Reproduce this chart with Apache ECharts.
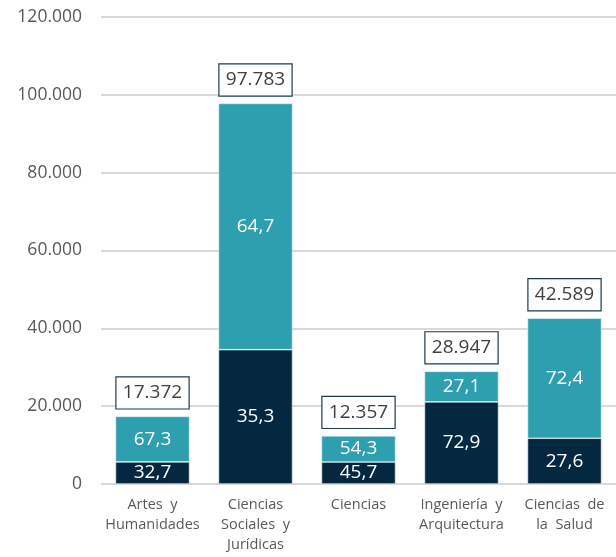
<!DOCTYPE html>
<html>
<head>
<meta charset="utf-8">
<script src="https://cdn.jsdelivr.net/npm/echarts@6/dist/echarts.min.js"></script>
<style>
  html, body { margin: 0; padding: 0; background: #fff; }
  #chart { width: 616px; height: 557px; }
</style>
</head>
<body>
<div id="chart"></div>
<script>
// Ramas de conocimiento: total de estudiantes y reparto porcentual
const categories = [
  'Artes  y\nHumanidades',
  'Ciencias\nSociales  y\nJurídicas',
  'Ciencias',
  'Ingeniería  y\nArquitectura',
  'Ciencias  de\nla  Salud'
];
const totals = [17372, 97783, 12357, 28947, 42589];
const pctDark = [32.7, 35.3, 45.7, 72.9, 27.6];
const pctTeal = [67.3, 64.7, 54.3, 27.1, 72.4];
const yTicks = { min: 0, max: 120000, interval: 20000 };

const FONT = '"Open Sans", "Noto Sans", sans-serif';
const fmtNum = v => Math.round(v).toString().replace(/\B(?=(\d{3})+(?!\d))/g, '.');
const fmtPct = v => v.toFixed(1).replace('.', ',');

const darkData = totals.map((t, i) => ({ value: t * pctDark[i] / 100, pct: pctDark[i] }));
const tealData = totals.map((t, i) => ({ value: t * pctTeal[i] / 100, pct: pctTeal[i] }));

const chart = echarts.init(document.getElementById('chart'), null, { renderer: 'canvas' });
chart.setOption({
  animation: false,
  grid: { left: 101, right: -5, top: 17, bottom: 73, containLabel: false },
  xAxis: {
    type: 'category',
    data: categories,
    axisTick: { show: false },
    axisLine: { show: false },
    axisLabel: {
      color: '#595959', fontFamily: FONT, fontSize: 14.5,
      lineHeight: 20, margin: 11, interval: 0
    }
  },
  yAxis: {
    type: 'value',
    min: yTicks.min, max: yTicks.max, interval: yTicks.interval,
    axisLine: { show: false },
    axisTick: { show: false },
    splitLine: { lineStyle: { color: '#d9d9d9', width: 2 } },
    axisLabel: {
      color: '#595959', fontFamily: FONT, fontSize: 17.5,
      margin: 19, formatter: fmtNum
    }
  },
  series: [
    {
      name: 'dark', type: 'bar', stack: 'total', barWidth: 74,
      data: darkData,
      itemStyle: { color: '#03283f', borderColor: '#e8f2f4', borderWidth: 0.6 },
      label: {
        show: true, position: 'inside', color: '#ffffff',
        fontFamily: FONT, fontSize: 19,
        formatter: p => fmtPct(p.data.pct)
      }
    },
    {
      name: 'teal', type: 'bar', stack: 'total', barWidth: 74,
      data: tealData,
      itemStyle: { color: '#2e9fae', borderColor: '#e8f2f4', borderWidth: 0.6 },
      label: {
        show: true, position: 'inside', color: '#ffffff',
        fontFamily: FONT, fontSize: 19,
        formatter: p => fmtPct(p.data.pct)
      }
    },
    {
      name: 'total', type: 'bar', barWidth: 74, barGap: '-100%',
      data: totals,
      itemStyle: { color: 'rgba(0,0,0,0)' },
      silent: true, z: 5,
      label: {
        show: true, position: 'top', distance: 8,
        color: '#404040', fontFamily: FONT, fontSize: 19,
        backgroundColor: '#ffffff', borderColor: '#1c3a4f', borderWidth: 1.2,
        width: 72, height: 31, lineHeight: 31, align: 'center',
        formatter: p => fmtNum(p.value)
      }
    }
  ]
});
</script>
</body>
</html>
